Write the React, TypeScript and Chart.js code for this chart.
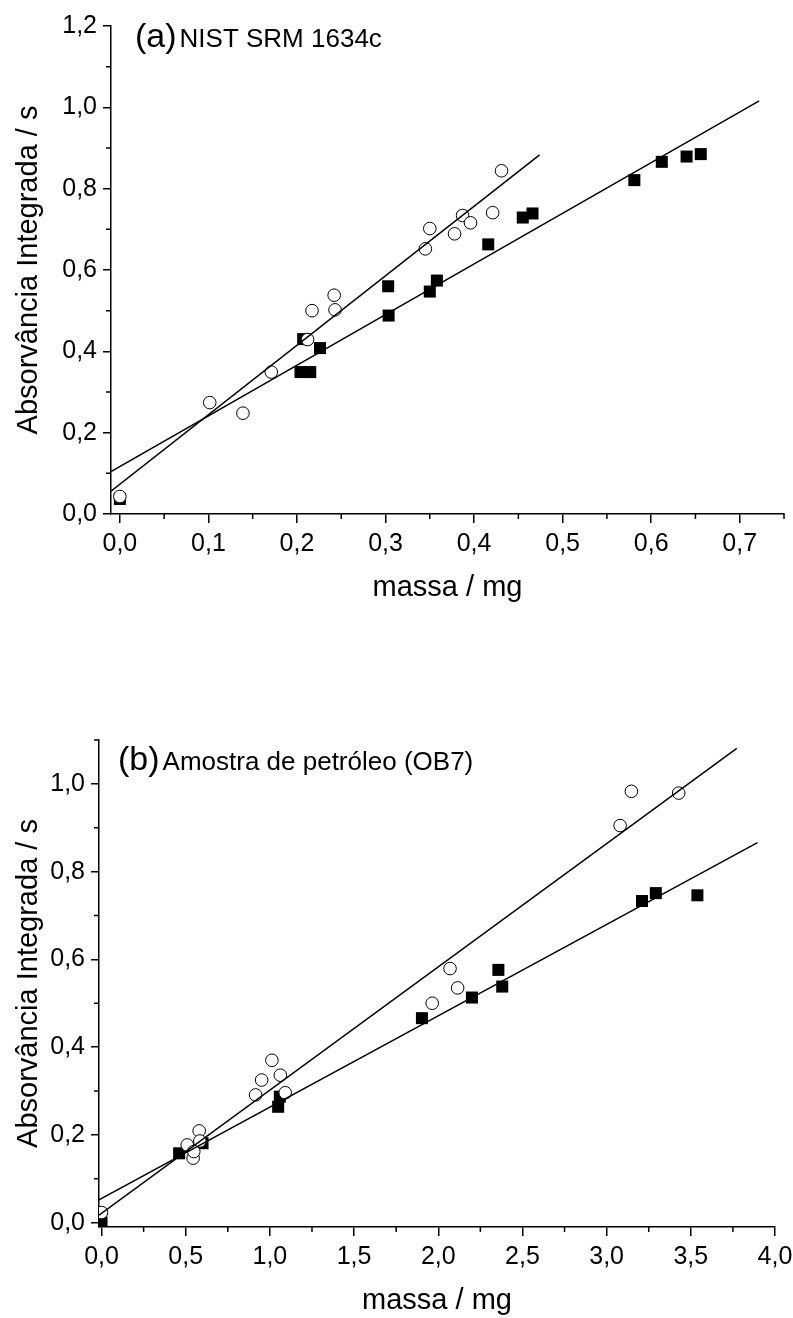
import React, { useEffect, useRef } from 'react';
import { Chart, registerables } from 'chart.js';

Chart.register(...registerables);

const FONT = "'Liberation Sans', Arial, Helvetica, sans-serif";

// ---------- Panel (a): NIST SRM 1634c ----------
const aCircleMass = [0.0, 0.1015, 0.139, 0.171, 0.212, 0.217, 0.242, 0.243, 0.345, 0.35, 0.378, 0.387, 0.396, 0.421, 0.431];
const aCircleAbs = [0.043, 0.274, 0.248, 0.349, 0.429, 0.5, 0.538, 0.502, 0.652, 0.702, 0.689, 0.734, 0.716, 0.741, 0.844];
const aSquareMass = [0.0, 0.204, 0.215, 0.207, 0.226, 0.303, 0.3035, 0.35, 0.358, 0.416, 0.455, 0.466, 0.581, 0.612, 0.64, 0.656];
const aSquareAbs = [0.037, 0.349, 0.349, 0.43, 0.408, 0.56, 0.488, 0.547, 0.574, 0.663, 0.729, 0.739, 0.821, 0.866, 0.879, 0.885];
const aCircleFitMass = [-0.01, 0.474];
const aCircleFitAbs = [0.056, 0.883];
const aSquareFitMass = [-0.01, 0.722];
const aSquareFitAbs = [0.104, 1.016];
const aMassTicks = [0, 0.1, 0.2, 0.3, 0.4, 0.5, 0.6, 0.7];
const aMassMinor = [0.05, 0.15, 0.25, 0.35, 0.45, 0.55, 0.65, 0.75];
const aAbsTicks = [0, 0.2, 0.4, 0.6, 0.8, 1.0, 1.2];
const aAbsMinor = [0.1, 0.3, 0.5, 0.7, 0.9, 1.1];

// ---------- Panel (b): Amostra de petróleo (OB7) ----------
const bCircleMass = [0.0, 0.509, 0.544, 0.548, 0.58, 0.584, 0.915, 0.951, 1.012, 1.062, 1.091, 1.964, 2.07, 2.115, 3.08, 3.147, 3.428];
const bCircleAbs = [0.023, 0.177, 0.147, 0.162, 0.209, 0.186, 0.291, 0.325, 0.37, 0.336, 0.296, 0.5, 0.579, 0.535, 0.905, 0.983, 0.979];
const bSquareMass = [0.0, 0.461, 0.6, 1.049, 1.059, 1.903, 2.2, 2.357, 2.38, 3.21, 3.292, 3.539];
const bSquareAbs = [0.0, 0.158, 0.181, 0.264, 0.287, 0.466, 0.513, 0.576, 0.538, 0.733, 0.751, 0.746];
const bCircleFitMass = [-0.015, 3.773];
const bCircleFitAbs = [0.017, 1.081];
const bSquareFitMass = [-0.015, 3.896];
const bSquareFitAbs = [0.052, 0.866];
const bMassTicks = [0, 0.5, 1.0, 1.5, 2.0, 2.5, 3.0, 3.5, 4.0];
const bMassMinor = [0.25, 0.75, 1.25, 1.75, 2.25, 2.75, 3.25, 3.75];
const bAbsTicks = [0, 0.2, 0.4, 0.6, 0.8, 1.0];
const bAbsMinor = [0.1, 0.3, 0.5, 0.7, 0.9, 1.1];

const xTitle = 'massa / mg';
const yTitle = 'Absorvância Integrada / s';

function zip(xs: number[], ys: number[]) {
  return xs.map((x, i) => ({ x, y: ys[i] }));
}

function fmt(v: number | string) {
  return Number(v).toFixed(1).replace('.', ',');
}

type Spec = {
  circleMass: number[]; circleAbs: number[];
  squareMass: number[]; squareAbs: number[];
  circleFitMass: number[]; circleFitAbs: number[];
  squareFitMass: number[]; squareFitAbs: number[];
  xMin: number; xMax: number; yMin: number; yMax: number;
  xTicks: number[]; xMinor: number[]; yTicks: number[]; yMinor: number[];
  tag: string; label: string;
  padding: { top: number; right: number; bottom: number; left: number };
  yWidth: number; xHeight: number;
  tagDx: number; tagDy: number;
  xTitlePad: number; yTitlePad: number;
};

function buildConfig(s: Spec): any {
  const decor = {
    id: 'decor',
    afterDraw(chart: any) {
      const ctx = chart.ctx as CanvasRenderingContext2D;
      const { left, top, bottom } = chart.chartArea;
      const xs = chart.scales.x;
      const ys = chart.scales.y;
      ctx.save();
      ctx.strokeStyle = '#000';
      ctx.lineWidth = 1.5;
      ctx.beginPath();
      s.xMinor.forEach((v) => {
        const px = xs.getPixelForValue(v);
        ctx.moveTo(px, bottom);
        ctx.lineTo(px, bottom + 5);
      });
      s.yMinor.forEach((v) => {
        const py = ys.getPixelForValue(v);
        ctx.moveTo(left, py);
        ctx.lineTo(left - 5, py);
      });
      ctx.stroke();
      ctx.fillStyle = '#000';
      ctx.textBaseline = 'alphabetic';
      ctx.textAlign = 'left';
      ctx.font = `34px ${FONT}`;
      ctx.fillText(s.tag, left + s.tagDx, top + s.tagDy);
      const w = ctx.measureText(s.tag).width;
      ctx.font = `26px ${FONT}`;
      ctx.fillText(s.label, left + s.tagDx + w + 3, top + s.tagDy);
      ctx.restore();
    },
  };

  const tickFont = { family: FONT, size: 25 };
  const titleFont = { family: FONT, size: 29 };

  return {
    type: 'scatter',
    data: {
      datasets: [
        {
          data: zip(s.circleFitMass, s.circleFitAbs),
          showLine: true, borderColor: '#000', borderWidth: 1.5, pointRadius: 0, fill: false,
        },
        {
          data: zip(s.squareFitMass, s.squareFitAbs),
          showLine: true, borderColor: '#000', borderWidth: 1.5, pointRadius: 0, fill: false,
        },
        {
          data: zip(s.circleMass, s.circleAbs),
          showLine: false, pointStyle: 'circle', pointRadius: 6.3,
          pointBackgroundColor: '#fff', pointBorderColor: '#000', pointBorderWidth: 1,
        },
        {
          data: zip(s.squareMass, s.squareAbs),
          showLine: false, pointStyle: 'rect', pointRadius: 8.5,
          pointBackgroundColor: '#000', pointBorderColor: '#000', pointBorderWidth: 0,
        },
      ],
    },
    options: {
      responsive: false,
      animation: false,
      devicePixelRatio: 1,
      layout: { padding: s.padding },
      plugins: { legend: { display: false }, tooltip: { enabled: false } },
      scales: {
        x: {
          type: 'linear', position: 'bottom', min: s.xMin, max: s.xMax, bounds: 'data',
          afterBuildTicks: (sc: any) => { sc.ticks = s.xTicks.map((v) => ({ value: v })); },
          afterFit: (sc: any) => { sc.height = s.xHeight; sc.paddingLeft = 0; sc.paddingRight = 0; },
          grid: { drawOnChartArea: false, drawTicks: true, tickLength: 9, color: '#000', lineWidth: 1.5 },
          border: { display: true, color: '#000', width: 1.5 },
          ticks: { color: '#000', font: tickFont, padding: 6, maxRotation: 0, autoSkip: false, callback: (v: any) => fmt(v) },
          title: { display: true, text: xTitle, color: '#000', font: titleFont, padding: { top: 0, bottom: s.xTitlePad } },
        },
        y: {
          type: 'linear', position: 'left', min: s.yMin, max: s.yMax, bounds: 'data',
          afterBuildTicks: (sc: any) => { sc.ticks = s.yTicks.map((v) => ({ value: v })); },
          afterFit: (sc: any) => { sc.width = s.yWidth; sc.paddingTop = 0; sc.paddingBottom = 0; },
          grid: { drawOnChartArea: false, drawTicks: true, tickLength: 8, color: '#000', lineWidth: 1.5 },
          border: { display: true, color: '#000', width: 1.5 },
          ticks: { color: '#000', font: tickFont, padding: 6, autoSkip: false, callback: (v: any) => fmt(v) },
          title: { display: true, text: yTitle, color: '#000', font: titleFont, padding: { top: s.yTitlePad, bottom: 0 } },
        },
      },
    },
    plugins: [decor],
  };
}

const specA: Spec = {
  circleMass: aCircleMass, circleAbs: aCircleAbs,
  squareMass: aSquareMass, squareAbs: aSquareAbs,
  circleFitMass: aCircleFitMass, circleFitAbs: aCircleFitAbs,
  squareFitMass: aSquareFitMass, squareFitAbs: aSquareFitAbs,
  xMin: -0.01, xMax: 0.75, yMin: 0, yMax: 1.2,
  xTicks: aMassTicks, xMinor: aMassMinor, yTicks: aAbsTicks, yMinor: aAbsMinor,
  tag: '(a)', label: 'NIST SRM 1634c',
  padding: { top: 26, right: 9, bottom: 26, left: 0 },
  yWidth: 111, xHeight: 100,
  tagDx: 24, tagDy: 21,
  xTitlePad: 9, yTitlePad: 12,
};

const specB: Spec = {
  circleMass: bCircleMass, circleAbs: bCircleAbs,
  squareMass: bSquareMass, squareAbs: bSquareAbs,
  circleFitMass: bCircleFitMass, circleFitAbs: bCircleFitAbs,
  squareFitMass: bSquareFitMass, squareFitAbs: bSquareFitAbs,
  xMin: -0.015, xMax: 4.0, yMin: -0.01, yMax: 1.1,
  xTicks: bMassTicks, xMinor: bMassMinor, yTicks: bAbsTicks, yMinor: bAbsMinor,
  tag: '(b)', label: 'Amostra de petróleo (OB7)',
  padding: { top: 100, right: 18, bottom: 0, left: 0 },
  yWidth: 99, xHeight: 91,
  tagDx: 19, tagDy: 30,
  xTitlePad: 0, yTitlePad: 12,
};

function Panel({ top, height, spec }: { top: number; height: number; spec: Spec }) {
  const ref = useRef<HTMLCanvasElement>(null);
  useEffect(() => {
    if (!ref.current) return;
    const chart = new Chart(ref.current, buildConfig(spec));
    return () => chart.destroy();
  }, [spec]);
  return (
    <canvas
      ref={ref}
      width={793}
      height={height}
      style={{ position: 'absolute', left: 0, top, width: 793, height, display: 'block' }}
    />
  );
}

export default function App() {
  return (
    <div style={{ position: 'absolute', left: 0, top: 0, width: 793, height: 1318, background: '#fff', overflow: 'hidden' }}>
      <Panel top={0} height={640} spec={specA} />
      <Panel top={640} height={678} spec={specB} />
    </div>
  );
}
